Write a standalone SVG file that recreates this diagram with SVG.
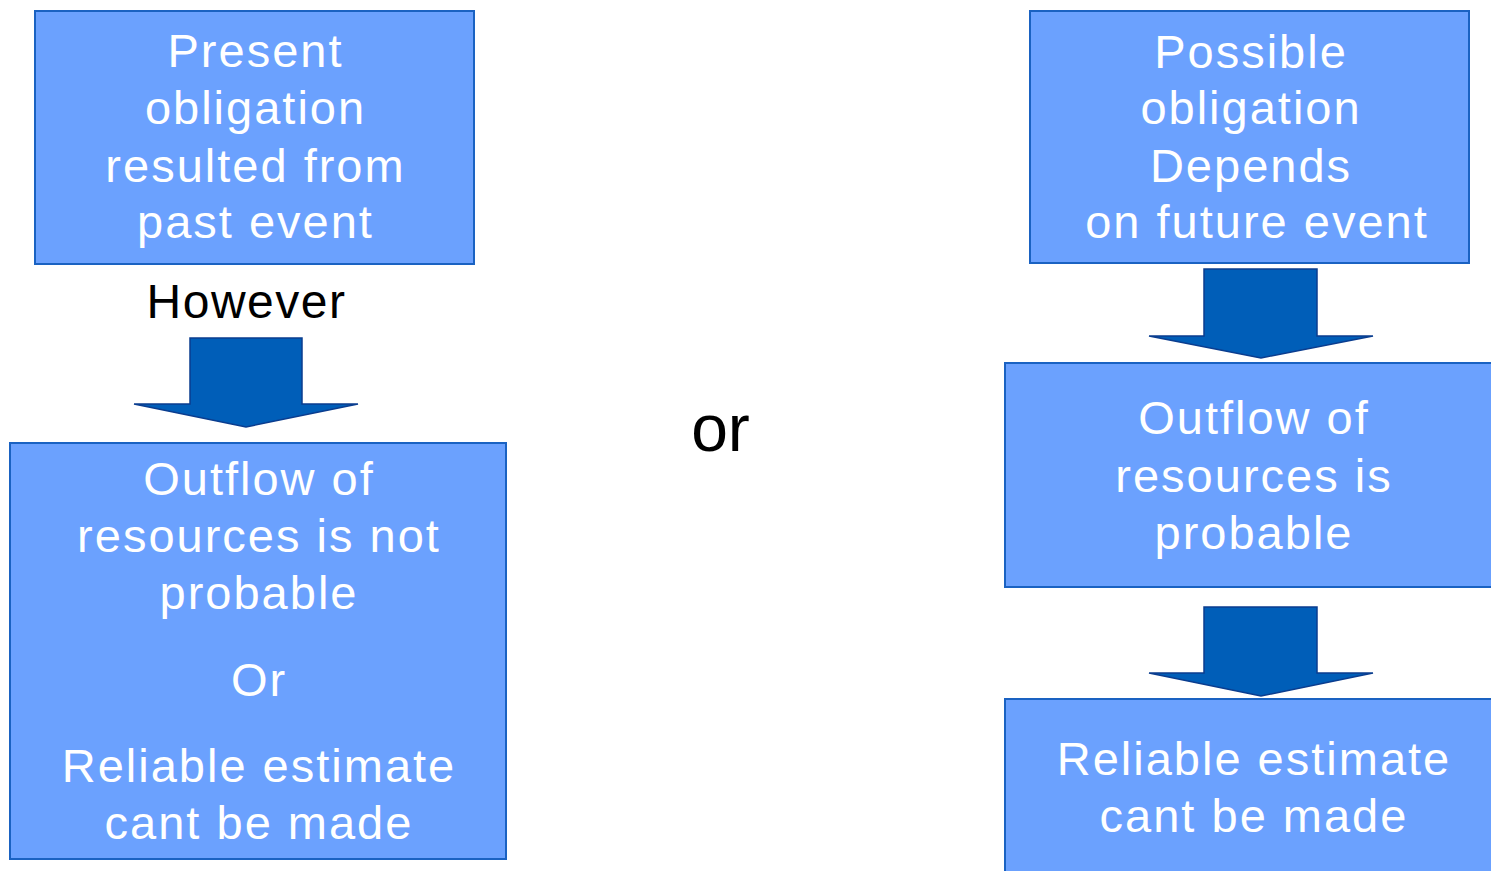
<svg xmlns="http://www.w3.org/2000/svg" width="1491" height="871" viewBox="0 0 1491 871">
<style>
.box{fill:#6ba1fe;stroke:#1a62c2;stroke-width:2}
.bt{font-family:"Liberation Sans",Arial,sans-serif;font-size:47px;letter-spacing:2px;fill:#ffffff;text-anchor:middle}
.arrow{fill:#005eb8;stroke:#0a3d8f;stroke-width:1.5;stroke-linejoin:miter}
.lbl{font-family:"Liberation Sans",Arial,sans-serif;fill:#000000;text-anchor:middle}
</style>
<rect width="1491" height="871" fill="#ffffff"/>
<g id="present-obligation">
<rect class="box" x="35" y="11" width="439" height="253"/>
<text class="bt" x="255.5" y="67">Present</text>
<text class="bt" x="255.5" y="124">obligation</text>
<text class="bt" x="255.5" y="182">resulted from</text>
<text class="bt" x="255.5" y="238">past event</text>
</g>
<g id="not-probable">
<rect class="box" x="10" y="443" width="496" height="416"/>
<text class="bt" x="259" y="495">Outflow of</text>
<text class="bt" x="259" y="552">resources is not</text>
<text class="bt" x="259" y="609">probable</text>
<text class="bt" x="259" y="696">Or</text>
<text class="bt" x="259" y="782">Reliable estimate</text>
<text class="bt" x="259" y="839">cant be made</text>
</g>
<g id="possible-obligation">
<rect class="box" x="1030" y="11" width="439" height="252"/>
<text class="bt" x="1251" y="68">Possible</text>
<text class="bt" x="1251" y="124">obligation</text>
<text class="bt" x="1251" y="182">Depends</text>
<text class="bt" x="1257" y="238">on future event</text>
</g>
<g id="probable">
<rect class="box" x="1005" y="363" width="500" height="224"/>
<text class="bt" x="1254" y="434">Outflow of</text>
<text class="bt" x="1254" y="492">resources is</text>
<text class="bt" x="1254" y="549">probable</text>
</g>
<g id="reliable-estimate">
<rect class="box" x="1005" y="699" width="500" height="190"/>
<text class="bt" x="1254" y="775">Reliable estimate</text>
<text class="bt" x="1254" y="832">cant be made</text>
</g>
<g id="labels">
<text class="lbl" x="246.5" y="318" font-size="48" letter-spacing="1.5">However</text>
<text class="lbl" x="720.5" y="451" font-size="66">or</text>
</g>
<g id="connectors">
<polygon class="arrow" points="190,338 302,338 302,404 358,404 246,427 134,404 190,404"/>
<polygon class="arrow" points="1204,269 1317,269 1317,336 1373,336 1261,358 1149,336 1204,336"/>
<polygon class="arrow" points="1204,607 1317,607 1317,673 1373,673 1261,696 1149,673 1204,673"/>
</g>
</svg>
